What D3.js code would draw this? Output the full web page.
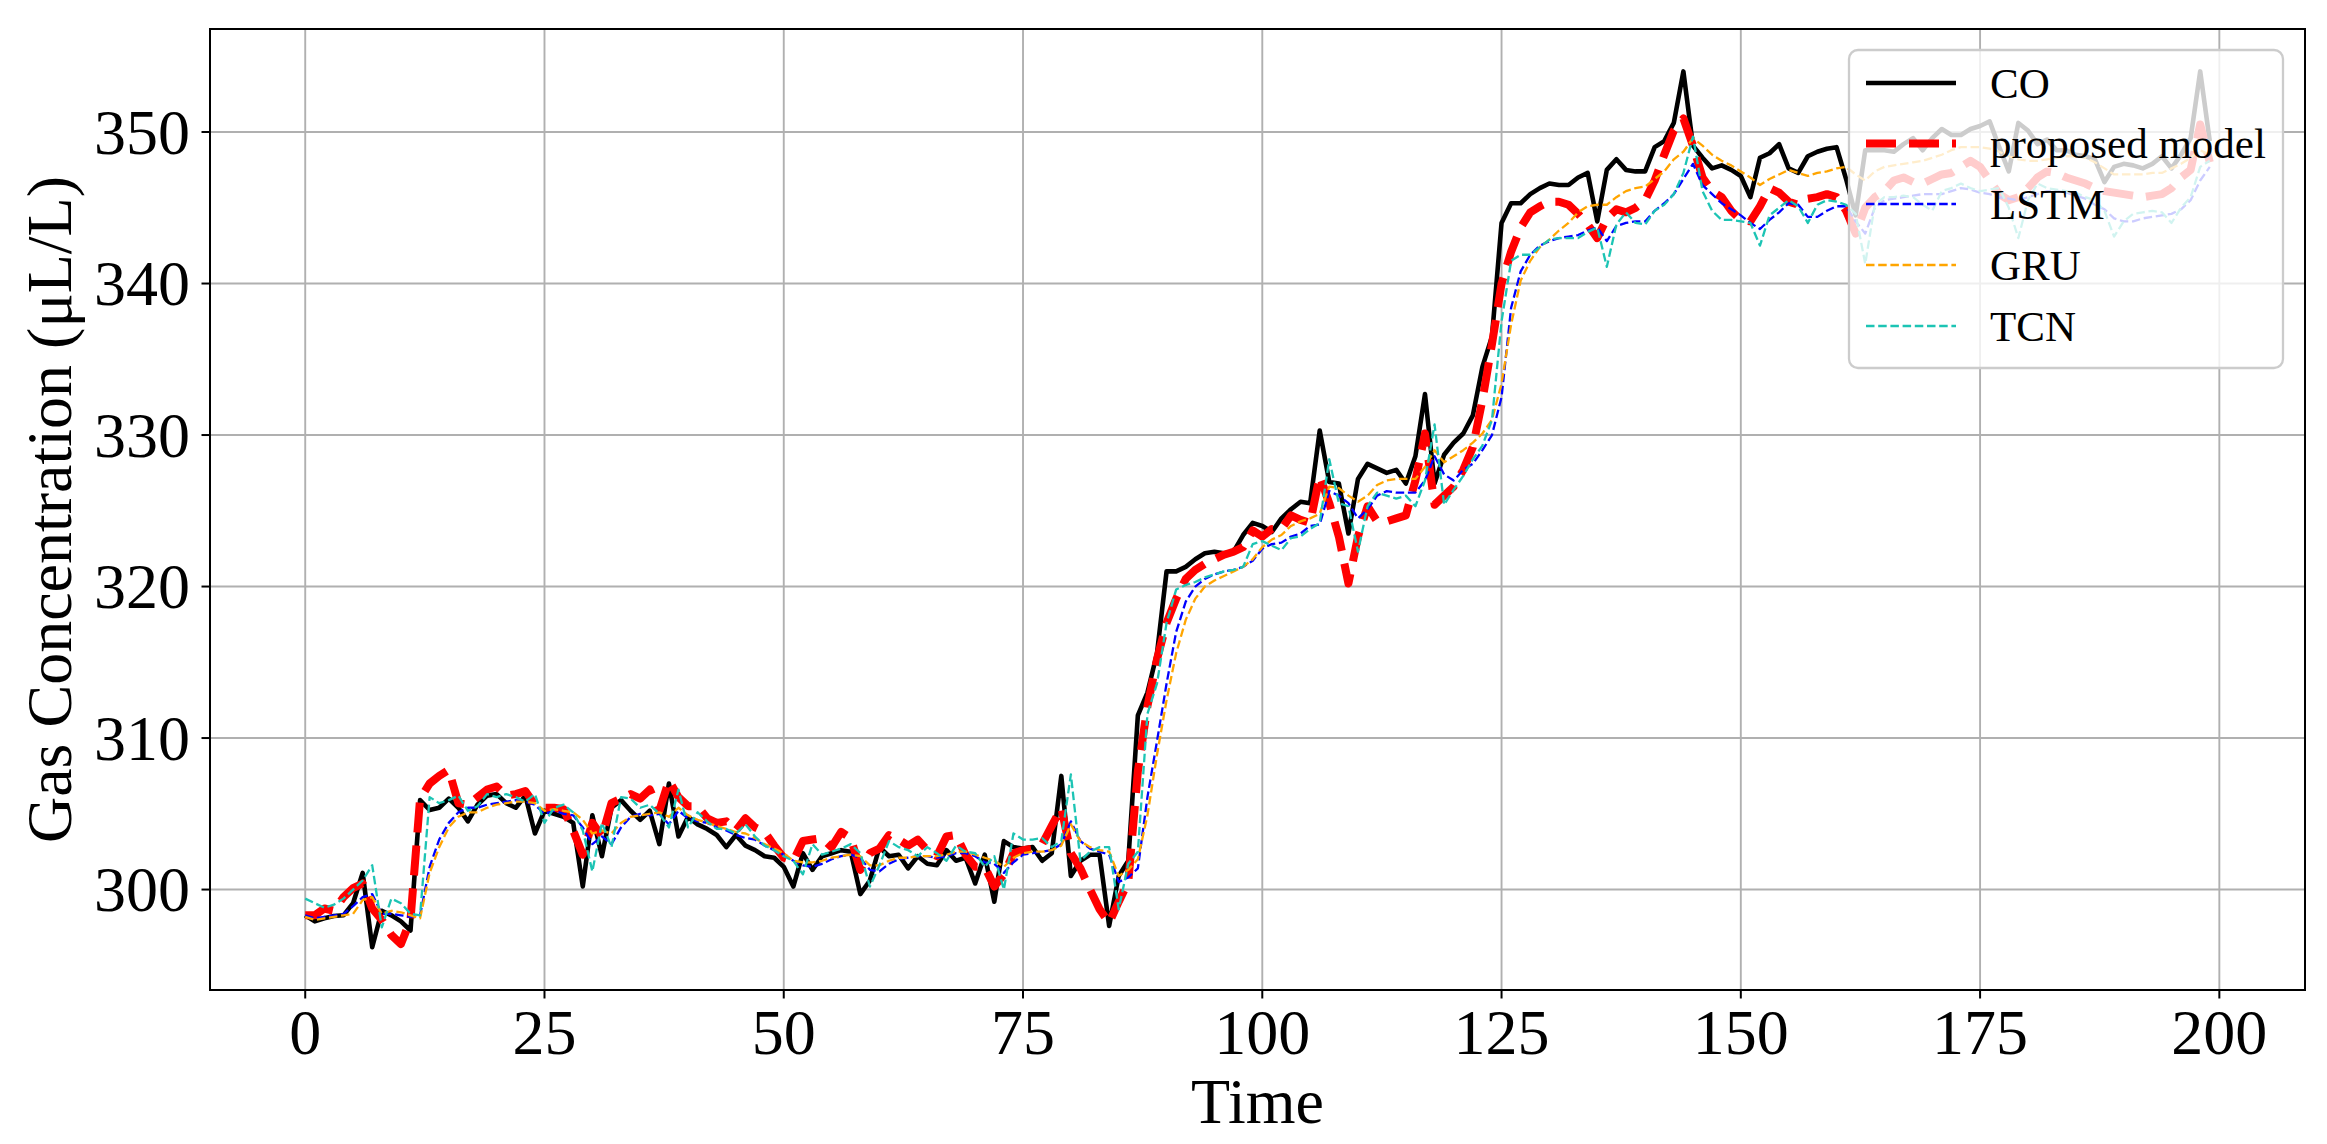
<!DOCTYPE html>
<html>
<head>
<meta charset="utf-8">
<script src="https://cdn.jsdelivr.net/npm/d3@7"></script>
<style>
  html, body { margin: 0; padding: 0; background: #ffffff; }
  svg { display: block; }
  text { font-family: "Liberation Serif", "Times New Roman", serif; fill: #000; }
</style>
</head>
<body>
<svg id="chart" width="2327" height="1144"></svg>
<script>
// ---------------- DATA ----------------
const seriesNames = ["CO", "proposed model", "LSTM", "GRU", "TCN"];
const xTicks = [0, 25, 50, 75, 100, 125, 150, 175, 200];
const yTicks = [300, 310, 320, 330, 340, 350];
const xLabel = "Time";
const yLabel = "Gas Concentration (μL/L)";

const coValues = [
298.3,297.9,298.1,298.25,298.3,299.1,301.1,296.2,298.6,298.3,
297.9,297.3,305.9,305.25,305.4,306.0,305.4,304.5,305.6,306.2,
306.3,305.7,305.4,306.2,303.7,305.2,305.0,304.8,304.4,300.2,
304.9,302.2,305.4,305.9,305.2,304.6,305.2,303.0,307.0,303.5,
304.8,304.3,304.0,303.6,302.8,303.6,302.9,302.6,302.2,302.1,
301.5,300.2,302.4,301.3,302.2,302.4,302.6,302.5,299.7,300.6,
302.8,302.2,302.3,301.4,302.2,301.7,301.6,302.6,301.9,302.1,
300.4,302.3,299.2,303.2,302.8,302.7,302.8,301.9,302.4,307.5,
300.9,301.9,302.3,302.3,297.6,300.9,301.9,311.5,313.0,315.6,
321.0,321.0,321.3,321.8,322.2,322.3,322.2,322.3,323.4,324.2,
324.0,323.6,324.5,325.1,325.6,325.5,330.3,326.9,326.8,323.5,
327.1,328.1,327.8,327.5,327.7,326.8,328.6,332.7,326.8,328.7,
329.5,330.1,331.3,334.5,336.5,344.0,345.3,345.3,345.9,346.3,
346.6,346.5,346.5,347.0,347.3,344.1,347.5,348.2,347.5,347.4,
347.4,349.0,349.4,350.6,354.0,349.1,348.3,347.6,347.8,347.5,
347.1,345.7,348.3,348.6,349.2,347.6,347.3,348.4,348.7,348.9,
349.0,346.9,344.5,348.8,348.8,348.8,348.7,349.2,349.6,348.8,
349.6,350.2,349.8,349.8,350.2,350.4,350.7,349.0,347.4,350.6,
350.1,349.2,349.5,348.8,348.8,348.5,348.4,348.2,346.7,347.7,
347.9,347.8,347.6,347.9,348.4,347.6,348.5,349.6,354.0,349.4
];

const proposedValues = [
298.3,298.3,298.75,298.6,299.5,300.1,300.4,298.75,298.0,297.0,
296.4,298.0,306.0,307.0,307.5,307.9,305.7,305.6,306.1,306.6,
306.8,306.2,306.3,306.5,305.6,305.4,305.4,305.3,303.9,302.3,
304.4,303.5,305.7,306.0,306.3,306.0,306.6,305.2,307.2,306.1,
305.5,305.5,304.7,304.4,304.5,303.9,304.7,304.1,303.8,302.9,
302.1,301.9,303.2,303.3,303.4,302.8,303.8,303.4,301.3,302.4,
302.7,303.6,303.3,302.9,303.3,302.6,302.2,303.5,303.6,302.3,
301.5,301.5,300.2,301.0,302.4,302.6,302.7,303.0,304.2,305.4,
302.4,301.4,300.0,298.7,297.8,299.2,300.5,307.8,312.1,315.2,
317.6,319.2,320.5,321.1,321.5,321.8,322.1,322.3,322.6,323.7,
323.3,323.8,323.8,324.7,324.4,324.2,327.3,325.5,323.3,320.2,
323.3,325.3,324.3,324.3,324.5,324.7,327.0,330.1,325.4,326.0,
326.6,327.7,329.2,332.3,336.0,340.0,342.1,343.7,344.7,345.1,
345.4,345.4,345.2,344.6,343.9,343.0,344.3,344.9,344.7,345.0,
345.5,346.8,348.5,350.1,350.9,349.1,347.0,346.1,345.7,344.8,
344.2,344.1,345.1,346.3,346.0,345.4,345.2,345.6,345.7,345.9,
345.7,344.8,343.3,345.0,345.7,346.1,346.8,347.0,346.7,346.6,
346.9,347.2,347.3,347.7,348.1,347.7,346.8,345.9,345.5,345.7,
346.3,347.0,347.4,347.3,347.0,346.8,346.6,346.3,346.1,346.0,
345.9,345.8,345.7,345.8,345.9,346.3,347.0,347.5,350.5,348.0
];

const lstmValues = [
298.3,298.1,298.2,298.3,298.4,298.9,299.5,299.7,298.4,298.4,
298.3,298.2,298.3,301.5,303.3,304.4,305.1,305.4,305.4,305.6,
305.7,305.8,305.9,305.8,305.6,305.0,305.2,305.0,304.9,304.1,
303.0,303.5,303.0,304.1,304.8,305.0,304.9,305.0,304.3,305.2,
304.7,304.5,304.4,304.1,303.9,303.6,303.4,303.3,302.9,302.6,
302.3,301.9,301.6,301.5,301.7,302.0,302.2,302.3,302.1,301.3,
301.2,301.7,302.0,302.1,302.2,302.2,302.1,302.2,302.4,302.4,
302.2,301.8,301.7,301.1,301.8,302.3,302.4,302.5,302.6,303.0,
304.5,303.2,302.7,302.5,302.3,300.5,300.8,301.4,306.1,309.8,
313.6,317.0,319.0,320.0,320.5,320.8,321.0,321.1,321.3,321.7,
322.5,322.8,322.9,323.3,323.5,324.0,324.1,326.3,326.0,325.5,
324.5,325.1,326.0,326.3,326.2,326.2,326.2,327.0,328.6,327.4,
327.0,327.7,328.1,329.0,330.0,332.5,338.4,340.8,341.9,342.5,
342.8,343.0,343.1,343.2,343.5,343.7,342.8,343.8,344.0,344.1,
344.1,344.8,345.3,345.9,346.9,347.9,346.5,345.9,345.3,344.9,
344.5,344.0,343.6,344.2,344.7,345.3,345.2,344.4,344.4,344.8,
345.1,345.1,344.1,343.3,345.0,345.5,345.6,345.7,345.8,345.9,
345.9,345.9,346.1,346.3,346.2,346.0,345.9,345.7,345.6,345.5,
345.7,345.9,346.1,346.1,346.0,345.8,345.6,345.2,344.9,344.3,
344.1,344.1,344.3,344.4,344.5,344.6,344.9,345.5,346.8,347.7
];

const gruValues = [
298.2,298.0,298.1,298.2,298.3,298.4,299.3,299.5,298.4,298.6,
298.5,298.3,298.1,301.1,302.8,304.1,304.8,305.1,305.1,305.4,
305.6,305.7,305.8,305.8,305.7,305.2,305.3,305.2,305.1,304.6,
303.7,303.9,303.7,304.4,304.8,304.9,305.0,305.1,304.8,305.4,
304.9,304.6,304.4,304.2,304.0,303.8,303.7,303.4,303.0,302.7,
302.4,301.9,301.8,301.8,301.9,302.1,302.2,302.3,302.2,301.6,
301.6,301.9,302.1,302.1,302.2,302.2,302.2,302.3,302.5,302.5,
302.3,302.1,301.9,301.5,302.1,302.4,302.5,302.5,302.6,302.9,
304.3,303.2,302.8,302.6,302.5,300.9,301.3,302.0,304.9,308.9,
312.5,315.6,317.8,319.2,320.0,320.4,320.7,321.0,321.3,321.8,
322.6,323.1,323.4,324.0,324.3,324.5,324.8,326.6,326.5,326.0,
325.6,326.0,326.7,327.0,327.1,327.1,327.1,327.9,329.0,328.2,
328.6,329.0,329.5,330.1,331.0,333.4,337.3,340.2,341.5,342.4,
342.9,343.5,344.0,344.7,345.1,345.2,345.2,345.7,346.1,346.3,
346.4,346.9,347.4,348.2,348.7,349.6,349.1,348.5,348.1,347.8,
347.4,347.0,346.5,346.9,347.2,347.5,347.3,347.1,347.3,347.4,
347.6,347.7,347.2,346.8,347.4,347.7,347.8,347.9,348.0,348.1,
348.3,348.5,348.8,349.0,349.0,349.0,348.9,348.7,348.4,348.2,
348.1,348.1,348.2,348.3,348.4,348.4,348.3,348.0,347.6,347.2,
347.2,347.2,347.2,347.3,347.3,347.6,347.9,348.3,348.8,348.5
];

const tcnValues = [
299.4,299.1,298.8,299.0,299.4,300.0,300.6,301.6,297.5,299.4,
299.1,298.4,298.3,306.1,305.7,305.9,306.2,305.2,305.5,306.3,
306.1,306.3,306.1,305.8,306.3,304.4,305.4,305.6,305.1,303.9,
301.2,304.4,302.8,306.1,306.0,305.4,305.6,305.0,304.1,306.6,
304.1,305.1,304.5,304.0,304.0,303.7,304.3,303.5,302.9,302.6,
302.2,301.9,301.0,303.0,302.3,302.5,302.7,303.0,302.4,300.2,
301.6,303.2,302.8,302.6,302.2,302.8,302.4,301.9,302.9,302.5,
302.4,301.5,302.2,300.0,303.7,303.3,303.3,303.4,302.8,303.2,
307.6,301.9,302.5,302.8,302.8,298.7,301.7,302.5,311.6,313.6,
317.6,319.8,320.1,320.3,320.6,320.8,321.0,321.1,321.3,322.8,
323.0,322.7,322.4,323.2,323.3,323.8,324.2,328.4,325.5,325.3,
322.3,325.3,326.2,326.0,325.8,326.0,325.3,327.0,330.7,325.4,
326.4,327.3,328.4,329.3,331.0,337.5,341.5,341.9,341.9,342.4,
342.9,343.0,343.0,343.0,343.4,343.7,341.1,343.9,344.7,344.0,
343.9,344.8,345.2,345.9,347.3,349.7,346.1,344.8,344.2,344.2,
344.1,344.0,342.5,344.5,345.0,345.5,345.1,344.0,345.2,345.5,
345.4,345.2,344.6,341.3,345.2,345.7,345.7,345.8,345.7,345.2,
344.8,346.1,346.3,346.6,346.3,346.1,346.2,346.3,345.0,343.0,
345.5,346.6,346.3,346.2,346.1,346.0,345.7,345.5,344.8,343.1,
344.1,344.6,344.7,344.8,344.7,344.0,345.0,345.7,347.7,348.1
];

// ---------------- LAYOUT ----------------
const W = 2327, H = 1144;
const plot = { left: 210, right: 2305, top: 29, bottom: 990 };
const FONT = 64;
const LEGEND_FONT = 43;

const svg = d3.select("#chart");

const x = d3.scaleLinear().domain([-9.95, 208.95]).range([plot.left, plot.right]);
const y = d3.scaleLinear().domain([293.37, 356.8]).range([plot.bottom, plot.top]);

// clip
svg.append("defs").append("clipPath").attr("id", "plotclip")
  .append("rect")
  .attr("x", plot.left).attr("y", plot.top)
  .attr("width", plot.right - plot.left).attr("height", plot.bottom - plot.top);

// grid
const grid = svg.append("g");
grid.selectAll("line.vx").data(xTicks).enter().append("line")
  .attr("x1", d => x(d)).attr("x2", d => x(d))
  .attr("y1", plot.top).attr("y2", plot.bottom)
  .attr("stroke", "#b0b0b0").attr("stroke-width", 1.9);
grid.selectAll("line.hy").data(yTicks).enter().append("line")
  .attr("y1", d => y(d)).attr("y2", d => y(d))
  .attr("x1", plot.left).attr("x2", plot.right)
  .attr("stroke", "#b0b0b0").attr("stroke-width", 1.9);

// series
const seriesDefs = [
  { name: seriesNames[0], values: coValues, color: "#000000", width: 4.6, dash: null },
  { name: seriesNames[1], values: proposedValues, color: "#ff0000", width: 8, dash: "30,13" },
  { name: seriesNames[2], values: lstmValues, color: "#0000ff", width: 2.3, dash: "8.5,3.7" },
  { name: seriesNames[3], values: gruValues, color: "#ffa500", width: 2.3, dash: "8.5,3.7" },
  { name: seriesNames[4], values: tcnValues, color: "#1cc4b4", width: 2.3, dash: "8.5,3.7" }
];

const line = d3.line().x((d, i) => x(i)).y(d => y(d));
const lines = svg.append("g").attr("clip-path", "url(#plotclip)");
seriesDefs.forEach(s => {
  lines.append("path")
    .datum(s.values)
    .attr("d", line)
    .attr("fill", "none")
    .attr("stroke", s.color)
    .attr("stroke-width", s.width)
    .attr("stroke-linejoin", "round")
    .attr("stroke-dasharray", s.dash);
});

// frame
svg.append("rect")
  .attr("x", plot.left).attr("y", plot.top)
  .attr("width", plot.right - plot.left).attr("height", plot.bottom - plot.top)
  .attr("fill", "none").attr("stroke", "#000").attr("stroke-width", 2);

// x axis ticks and labels
const xt = svg.append("g");
xt.selectAll("line").data(xTicks).enter().append("line")
  .attr("x1", d => x(d)).attr("x2", d => x(d))
  .attr("y1", plot.bottom).attr("y2", plot.bottom + 8.5)
  .attr("stroke", "#000").attr("stroke-width", 2);
xt.selectAll("text").data(xTicks).enter().append("text")
  .attr("x", d => x(d)).attr("y", 1054)
  .attr("text-anchor", "middle")
  .style("font-size", FONT + "px")
  .text(d => d3.format("d")(d));

// y axis ticks and labels
const yt = svg.append("g");
yt.selectAll("line").data(yTicks).enter().append("line")
  .attr("y1", d => y(d)).attr("y2", d => y(d))
  .attr("x1", plot.left - 8.5).attr("x2", plot.left)
  .attr("stroke", "#000").attr("stroke-width", 2);
yt.selectAll("text").data(yTicks).enter().append("text")
  .attr("x", 190).attr("y", d => y(d) + 21.6)
  .attr("text-anchor", "end")
  .style("font-size", FONT + "px")
  .text(d => d3.format("d")(d));

// axis titles
svg.append("text")
  .attr("x", (plot.left + plot.right) / 2).attr("y", 1123)
  .attr("text-anchor", "middle")
  .style("font-size", FONT + "px")
  .text(xLabel);
svg.append("text")
  .attr("transform", `translate(71,${(plot.top + plot.bottom) / 2}) rotate(-90)`)
  .attr("text-anchor", "middle")
  .style("font-size", FONT + "px")
  .text(yLabel);

// legend
const lg = svg.append("g");
lg.append("rect")
  .attr("x", 1849).attr("y", 50).attr("width", 434).attr("height", 318)
  .attr("rx", 9).attr("ry", 9)
  .attr("fill", "#ffffff").attr("fill-opacity", 0.8)
  .attr("stroke", "#cccccc").attr("stroke-width", 2.3);
const rowY = [83, 143.5, 204, 265, 326];
seriesDefs.forEach((s, k) => {
  lg.append("line")
    .attr("x1", 1866).attr("x2", 1956)
    .attr("y1", rowY[k]).attr("y2", rowY[k])
    .attr("stroke", s.color).attr("stroke-width", s.width)
    .attr("stroke-dasharray", s.dash);
  lg.append("text")
    .attr("x", 1990).attr("y", rowY[k] + 14.5)
    .style("font-size", LEGEND_FONT + "px")
    .text(s.name);
});
</script>
</body>
</html>
